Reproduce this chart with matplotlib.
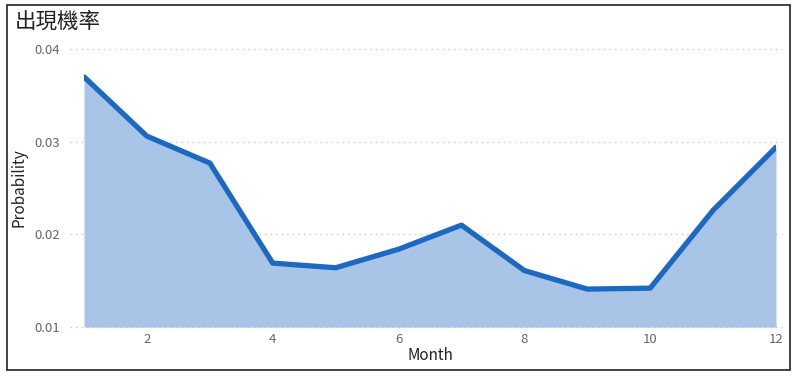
import matplotlib
matplotlib.use("Agg")
import matplotlib.pyplot as plt
from matplotlib.patches import Rectangle

plt.rcParams['font.family'] = ['Noto Sans CJK TC', 'DejaVu Sans']

months = [1, 2, 3, 4, 5, 6, 7, 8, 9, 10, 11, 12]
probability = [0.0370, 0.0306, 0.0277, 0.0169, 0.0164, 0.0184, 0.0210,
               0.0161, 0.0141, 0.0142, 0.0226, 0.0294]
x_ticks = [2, 4, 6, 8, 10, 12]
y_ticks = [0.01, 0.02, 0.03, 0.04]

fig = plt.figure(figsize=(8.0, 3.83), dpi=100)
ax = fig.add_axes([0.105, 0.146, 0.865, 0.726])

ax.fill_between(months, probability, 0.01, color='#a8c4e6', linewidth=0, zorder=2)
ax.plot(months, probability, color='#1c69c2', linewidth=3.8,
        solid_capstyle='round', solid_joinstyle='round', zorder=3)

ax.set_xlim(1, 12)
ax.set_ylim(0.01, 0.04)
ax.set_xticks(x_ticks)
ax.set_yticks(y_ticks)
ax.set_yticklabels([f"{v:.2f}" for v in y_ticks])
ax.tick_params(length=0, labelsize=9.5, colors='#666666')
ax.tick_params(axis='y', pad=17)
ax.tick_params(axis='x', pad=4)
for s in ax.spines.values():
    s.set_visible(False)

# dotted gridlines extending slightly beyond the plot area
for v in y_ticks:
    ax.plot([-0.02, 1.009], [v, v], transform=ax.get_yaxis_transform(),
            clip_on=False, linestyle=(0, (1, 3)), color='#c8c8c8',
            linewidth=1, zorder=1)

ax.set_xlabel('Month', fontsize=11, color='#222222', labelpad=1, fontweight='medium')
ax.set_ylabel('Probability', fontsize=11, color='#222222', labelpad=5, fontweight='medium')

fig.text(0.018, 0.942, '出現機率', fontsize=15.5, color='#222222', va='center', ha='left')

fig.patches.append(Rectangle((0.009, 0.035), 0.978, 0.952, transform=fig.transFigure,
                             fill=False, edgecolor='#222222', linewidth=1.2))

fig.savefig('out.png', dpi=100)
